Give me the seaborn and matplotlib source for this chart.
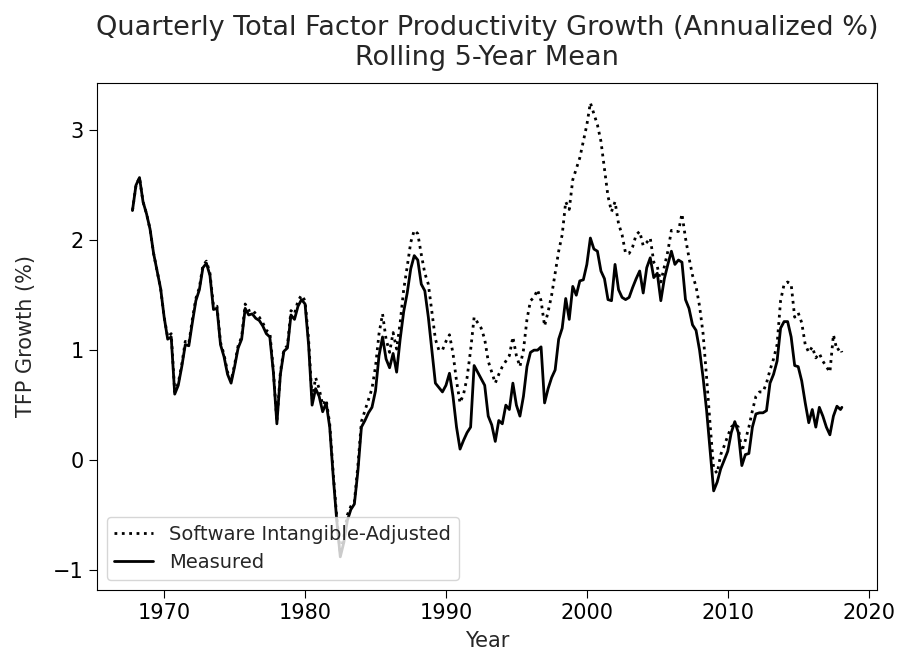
import numpy as np
import pandas as pd
import matplotlib
matplotlib.use("Agg")
import matplotlib.pyplot as plt
import seaborn as sns

# values (rolling 5-year mean, annualized %)
years = [
    1967.75, 1968.0, 1968.25, 1968.5, 1968.75, 1969.0, 1969.25, 1969.5, 1969.75,
    1970.0, 1970.25, 1970.5, 1970.75, 1971.0, 1971.25, 1971.5, 1971.75,
    1972.0, 1972.25, 1972.5, 1972.75, 1973.0, 1973.25, 1973.5, 1973.75,
    1974.0, 1974.25, 1974.5, 1974.75, 1975.0, 1975.25, 1975.5, 1975.75,
    1976.0, 1976.25, 1976.5, 1976.75, 1977.0, 1977.25, 1977.5, 1977.75,
    1978.0, 1978.25, 1978.5, 1978.75, 1979.0, 1979.25, 1979.5, 1979.75,
    1980.0, 1980.25, 1980.5, 1980.75, 1981.0, 1981.25, 1981.5, 1981.75,
    1982.0, 1982.25, 1982.5, 1982.75, 1983.0, 1983.25, 1983.5, 1983.75,
    1984.0, 1984.25, 1984.5, 1984.75, 1985.0, 1985.25, 1985.5, 1985.75,
    1986.0, 1986.25, 1986.5, 1986.75, 1987.0, 1987.25, 1987.5, 1987.75,
    1988.0, 1988.25, 1988.5, 1988.75, 1989.0, 1989.25, 1989.5, 1989.75,
    1990.0, 1990.25, 1990.5, 1990.75, 1991.0, 1991.25, 1991.5, 1991.75,
    1992.0, 1992.25, 1992.5, 1992.75, 1993.0, 1993.25, 1993.5, 1993.75,
    1994.0, 1994.25, 1994.5, 1994.75, 1995.0, 1995.25, 1995.5, 1995.75,
    1996.0, 1996.25, 1996.5, 1996.75, 1997.0, 1997.25, 1997.5, 1997.75,
    1998.0, 1998.25, 1998.5, 1998.75, 1999.0, 1999.25, 1999.5, 1999.75,
    2000.0, 2000.25, 2000.5, 2000.75, 2001.0, 2001.25, 2001.5, 2001.75,
    2002.0, 2002.25, 2002.5, 2002.75, 2003.0, 2003.25, 2003.5, 2003.75,
    2004.0, 2004.25, 2004.5, 2004.75, 2005.0, 2005.25, 2005.5, 2005.75,
    2006.0, 2006.25, 2006.5, 2006.75, 2007.0, 2007.25, 2007.5, 2007.75,
    2008.0, 2008.25, 2008.5, 2008.75, 2009.0, 2009.25, 2009.5, 2009.75,
    2010.0, 2010.25, 2010.5, 2010.75, 2011.0, 2011.25, 2011.5, 2011.75,
    2012.0, 2012.25, 2012.5, 2012.75, 2013.0, 2013.25, 2013.5, 2013.75,
    2014.0, 2014.25, 2014.5, 2014.75, 2015.0, 2015.25, 2015.5, 2015.75,
    2016.0, 2016.25, 2016.5, 2016.75, 2017.0, 2017.25, 2017.5, 2017.75,
    2018.0, 2018.1,
]

measured = [
    2.27, 2.50, 2.57, 2.35, 2.24, 2.10, 1.88, 1.72, 1.56,
    1.30, 1.10, 1.12, 0.60, 0.68, 0.85, 1.05, 1.04,
    1.25, 1.45, 1.55, 1.75, 1.79, 1.68, 1.37, 1.38,
    1.05, 0.94, 0.78, 0.70, 0.85, 1.02, 1.10, 1.38,
    1.32, 1.33, 1.29, 1.27, 1.22, 1.15, 1.12, 0.80,
    0.33, 0.78, 0.99, 1.02, 1.32, 1.28, 1.40, 1.46,
    1.42, 1.05, 0.50, 0.65, 0.58, 0.44, 0.52, 0.30,
    -0.15, -0.55, -0.88, -0.75, -0.55, -0.45, -0.40, -0.10,
    0.30, 0.36, 0.43, 0.48, 0.63, 0.95, 1.12, 0.92,
    0.84, 0.97, 0.80, 1.10, 1.35, 1.52, 1.74, 1.86,
    1.82, 1.60, 1.54, 1.30, 1.00, 0.70, 0.66, 0.62,
    0.68, 0.79, 0.58, 0.30, 0.10, 0.18, 0.25, 0.30,
    0.86, 0.80, 0.74, 0.68, 0.40, 0.32, 0.17, 0.36,
    0.33, 0.50, 0.46, 0.70, 0.50, 0.40, 0.58, 0.85,
    0.98, 1.00, 1.00, 1.03, 0.52, 0.65, 0.75, 0.82,
    1.10, 1.20, 1.47, 1.28, 1.58, 1.50, 1.63, 1.64,
    1.78, 2.02, 1.92, 1.90, 1.72, 1.65, 1.46, 1.45,
    1.78, 1.55, 1.48, 1.46, 1.48, 1.57, 1.65, 1.72,
    1.52, 1.75, 1.84, 1.66, 1.70, 1.45, 1.65, 1.78,
    1.90, 1.78, 1.82, 1.80, 1.46, 1.38, 1.23, 1.18,
    1.00, 0.75, 0.45, 0.08, -0.28, -0.20, -0.08, 0.00,
    0.08, 0.25, 0.35, 0.25, -0.05, 0.05, 0.06, 0.30,
    0.42, 0.43, 0.43, 0.45, 0.70, 0.78, 0.90, 1.20,
    1.26, 1.26, 1.12, 0.86, 0.85, 0.72, 0.52, 0.34,
    0.46, 0.30, 0.48, 0.40, 0.30, 0.23, 0.40, 0.49,
    0.46, 0.48,
]

adjusted = [
    2.27, 2.50, 2.57, 2.35, 2.24, 2.10, 1.88, 1.72, 1.56,
    1.30, 1.12, 1.15, 0.62, 0.70, 0.87, 1.08, 1.06,
    1.28, 1.47, 1.57, 1.77, 1.81, 1.70, 1.40, 1.40,
    1.07, 0.96, 0.80, 0.72, 0.87, 1.04, 1.12, 1.42,
    1.36, 1.37, 1.33, 1.30, 1.25, 1.18, 1.16, 0.82,
    0.35, 0.80, 1.01, 1.04, 1.36, 1.33, 1.45, 1.50,
    1.45, 1.10, 0.55, 0.75, 0.65, 0.50, 0.55, 0.33,
    -0.12, -0.52, -0.85, -0.70, -0.50, -0.42, -0.38, -0.05,
    0.35, 0.45, 0.55, 0.65, 0.85, 1.15, 1.33, 1.10,
    0.98, 1.16, 1.01, 1.25, 1.55, 1.76, 1.98, 2.09,
    2.06, 1.87, 1.70, 1.60, 1.35, 1.10, 1.00, 1.00,
    1.08, 1.14, 0.97, 0.72, 0.52, 0.60, 0.75, 1.00,
    1.30, 1.25, 1.20, 1.10, 0.90, 0.80, 0.70, 0.78,
    0.85, 0.90, 0.95, 1.12, 0.95, 0.85, 1.00, 1.28,
    1.45, 1.48, 1.55, 1.45, 1.22, 1.35, 1.50, 1.70,
    1.90, 2.05, 2.35, 2.28, 2.55, 2.65, 2.75, 2.90,
    3.05, 3.25, 3.15, 3.05, 2.90, 2.65, 2.40, 2.26,
    2.35, 2.15, 2.05, 1.88, 1.88, 1.94, 2.05, 2.08,
    1.95, 1.98, 2.02, 1.80, 1.76, 1.62, 1.76, 1.90,
    2.09, 2.08, 2.08, 2.24, 2.02, 1.84, 1.68, 1.58,
    1.40, 1.15, 0.75, 0.32, -0.08, -0.12, 0.05, 0.13,
    0.22, 0.30, 0.33, 0.30, 0.08, 0.18, 0.30, 0.45,
    0.58, 0.62, 0.62, 0.70, 0.82, 0.92, 1.05, 1.45,
    1.60, 1.62, 1.60, 1.30, 1.34, 1.25, 1.05, 0.98,
    1.03, 0.93, 0.97, 0.90, 0.85, 0.80, 1.14, 1.00,
    1.02, 0.98,
]

df = pd.DataFrame({"year": years, "measured": measured, "adjusted": adjusted})

sns.set_style("ticks")
plt.rcParams["font.family"] = ["DejaVu Sans"]

fig = plt.figure(figsize=(8.98, 6.59), dpi=100)
ax = fig.add_axes([0.108, 0.105, 0.869, 0.769])

sns.lineplot(data=df, x="year", y="adjusted", ax=ax, color="k", linestyle=":",
             linewidth=2, label="Software Intangible-Adjusted")
sns.lineplot(data=df, x="year", y="measured", ax=ax, color="k", linewidth=2,
             label="Measured")

ax.set_ylim(-1.18, 3.43)
ax.set_xticks([1970, 1980, 1990, 2000, 2010, 2020])
ax.set_yticks([-1, 0, 1, 2, 3])
ax.tick_params(labelsize=15, colors="k", length=6)
for s in ax.spines.values():
    s.set_color("k")
ax.set_xlabel("Year", fontsize=15, labelpad=6)
ax.set_ylabel("TFP Growth (%)", fontsize=15, labelpad=12)
ax.set_title("Quarterly Total Factor Productivity Growth (Annualized %)\nRolling 5-Year Mean",
             fontsize=19.5, pad=13)
ax.legend(loc="lower left", fontsize=14)

fig.savefig("out.png", dpi=100)
